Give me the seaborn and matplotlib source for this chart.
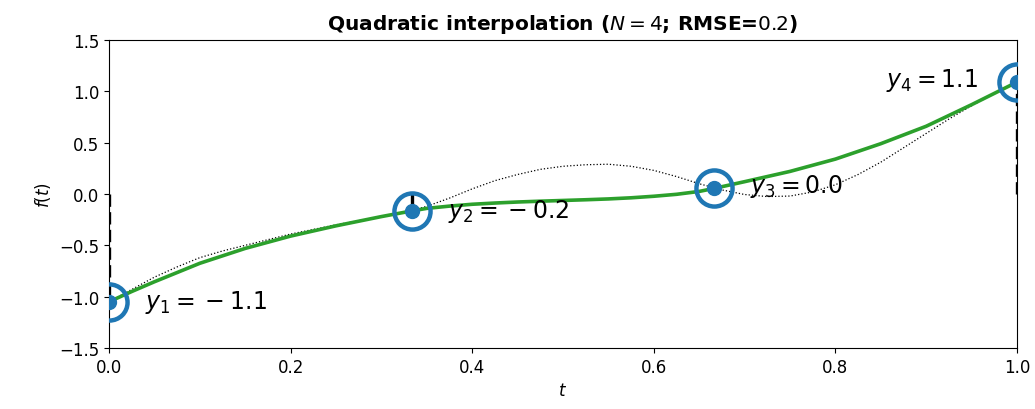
import numpy as np
import pandas as pd
import matplotlib
matplotlib.use("Agg")
import matplotlib.pyplot as plt
import seaborn as sns

# sample points
t_samples = [0.0, 1/3, 2/3, 1.0]
y_samples = [-1.05, -0.165, 0.055, 1.09]
sample_labels = [r"$y_1 =\:-\:1.1$", r"$y_2 =\:-\:0.2$", r"$y_3 = 0.0$", r"$y_4 = 1.1$"]

# original (dotted) function
t_true = [0.0, 0.025, 0.05, 0.075, 0.1, 0.125, 0.15, 0.175, 0.2, 0.225, 0.25,
          0.275, 0.3, 0.325, 0.35, 0.375, 0.4, 0.425, 0.45, 0.475, 0.5, 0.525,
          0.55, 0.575, 0.6, 0.625, 0.65, 0.675, 0.7, 0.725, 0.75, 0.775, 0.8,
          0.825, 0.85, 0.875, 0.9, 0.925, 0.95, 0.975, 1.0]
f_true = [-1.05, -0.93, -0.81, -0.71, -0.62, -0.555, -0.50, -0.445, -0.39,
          -0.345, -0.30, -0.26, -0.22, -0.18, -0.12, -0.04, 0.05, 0.13, 0.19,
          0.24, 0.27, 0.285, 0.29, 0.27, 0.23, 0.17, 0.10, 0.04, -0.005,
          -0.025, -0.02, 0.02, 0.09, 0.19, 0.31, 0.45, 0.59, 0.73, 0.86, 0.98,
          1.09]

# quadratic interpolation (green)
t_interp = [0.0, 0.025, 0.05, 0.1, 0.15, 0.2, 0.25, 0.3, 1/3, 0.35, 0.375,
            0.4, 0.425, 0.45, 0.475, 0.5, 0.525, 0.55, 0.575, 0.6, 0.625,
            0.65, 2/3, 0.7, 0.75, 0.8, 0.85, 0.9, 0.95, 1.0]
f_interp = [-1.05, -0.95, -0.855, -0.675, -0.53, -0.41, -0.31, -0.22, -0.165,
            -0.14, -0.118, -0.10, -0.088, -0.078, -0.07, -0.063, -0.056,
            -0.048, -0.037, -0.022, -0.003, 0.025, 0.055, 0.12, 0.22, 0.34,
            0.49, 0.66, 0.87, 1.09]

title = r"Quadratic interpolation ($N=4$; RMSE=$0.2$)"

fig = plt.figure(figsize=(10.35, 4.1), dpi=100)
ax = fig.add_subplot(111)
fig.subplots_adjust(left=109/1035, right=1017/1035, top=1-41/410, bottom=1-349/410)

df_true = pd.DataFrame({"t": t_true, "f": f_true})
df_int = pd.DataFrame({"t": t_interp, "f": f_interp})

sns.lineplot(data=df_true, x="t", y="f", ax=ax, color="black", linestyle=":",
             linewidth=0.9, sort=False, zorder=2)
sns.lineplot(data=df_int, x="t", y="f", ax=ax, color="#2ca02c", linewidth=2.6,
             sort=False, zorder=3)

# stems
ax.vlines(t_samples, 0, y_samples, colors="black", linestyles="--", linewidth=2.4, zorder=2.5)

# markers
ax.plot(t_samples, y_samples, linestyle="none", marker="o", markersize=26,
        markerfacecolor="none", markeredgecolor="#1f77b4", markeredgewidth=3.2, zorder=4)
ax.plot(t_samples, y_samples, linestyle="none", marker="o", markersize=10,
        color="#1f77b4", zorder=4)

offsets = [(26, 0), (26, 0), (26, 2), (-28, 2)]
has = ["left", "left", "left", "right"]
for t, y, lab, off, ha in zip(t_samples, y_samples, sample_labels, offsets, has):
    ax.annotate(lab, (t, y), xytext=off, textcoords="offset points",
                ha=ha, va="center", fontsize=17)

ax.set_xlim(0, 1)
ax.set_ylim(-1.5, 1.5)
ax.set_xticks([0.0, 0.2, 0.4, 0.6, 0.8, 1.0])
ax.set_yticks([-1.5, -1.0, -0.5, 0.0, 0.5, 1.0, 1.5])
ax.tick_params(labelsize=12)
ax.set_xlabel("$t$", fontsize=12)
ax.set_ylabel("$f(t)$", fontsize=12)
ax.set_title(title, fontsize=14.5, fontweight="bold", pad=8)

fig.savefig("out.png", dpi=100)
